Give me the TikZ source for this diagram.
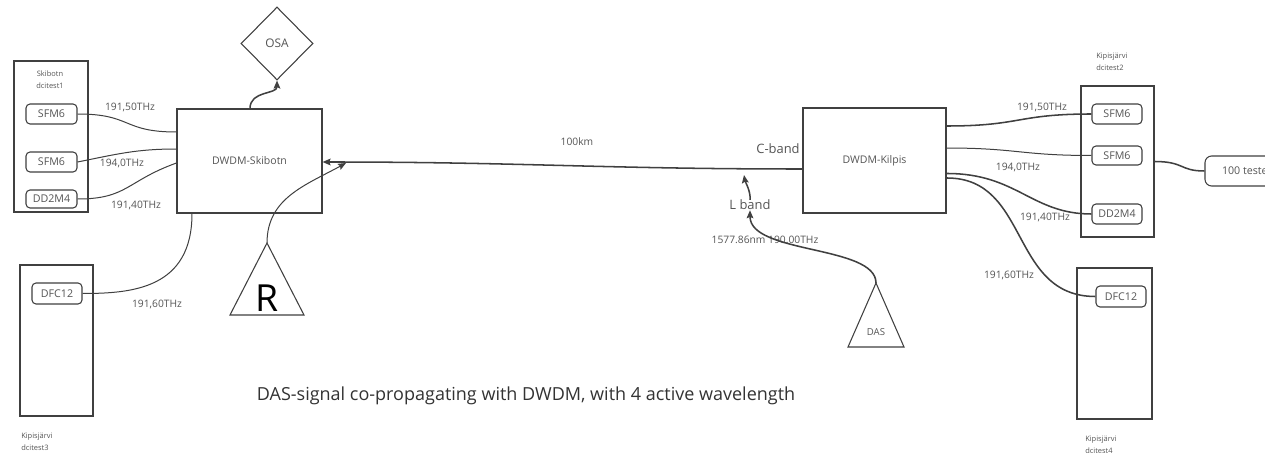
\documentclass[tikz,border=0pt]{standalone}
\usepackage{fontspec}
\setmainfont{Open Sans}
\usetikzlibrary{shapes.geometric,arrows.meta,calc}

\definecolor{ink}{HTML}{404040}
\definecolor{txt}{HTML}{555555}
\definecolor{titletxt}{HTML}{333333}

\begin{document}
\begin{tikzpicture}[x=0.75pt,y=-0.75pt,
  frame/.style 2 args={draw=ink, line width=0.8pt, minimum width=#1*0.75pt,
    minimum height=#2*0.75pt, inner sep=0pt},
  port/.style 2 args={frame={#1}{#2}, rounded corners=3pt, text=txt,
    font=\fontsize{8}{9.6}\selectfont},
  unit/.style 2 args={frame={#1}{#2}, text=txt, font=\fontsize{7.9}{9.5}\selectfont},
  freq/.style={text=txt, inner sep=0pt, font=\fontsize{7.7}{9}\selectfont},
  site/.style={text=txt, inner sep=0pt, align=left, font=\fontsize{5.6}{9}\selectfont},
  band/.style={text=txt, inner sep=0pt, font=\fontsize{9.7}{11}\selectfont},
  thin/.style={draw=ink, line width=0.75pt},
  thick/.style={draw=ink, line width=1.15pt},
  tip/.style={-{Stealth[length=6pt,width=5pt,inset=1pt]}},
]
\useasboundingbox[fill=white] (0,0) rectangle (1265,453);

% ---------- Skibotn side ----------
\node[frame={74}{151}] (site1) at (51,136.5) {};
\node[site, align=center] (site1lbl) at (50,80) {Skibotn\\dcitest1};
\node[port={51}{20}] (sfmA) at (51.5,114) {SFM6};
\node[port={51}{20}] (sfmB) at (51.5,162) {SFM6};
\node[port={51}{18}] (ddA) at (51.5,199) {DD2M4};

\node[frame={73}{151}] (site3) at (56.5,340.5) {};
\node[port={50}{21}] (dfcA) at (57,293.5) {DFC12};
\node[site, anchor=west] (site3lbl) at (21,442) {Kipisjärvi\\dcitest3};

\node[unit={145}{104}] (dwdmS) at (249.5,161) {DWDM-Skibotn};
\node[diamond, draw=ink, line width=0.8pt, inner sep=0pt, minimum width=72*0.75pt,
  minimum height=73*0.75pt, text=txt, font=\fontsize{8.9}{10}\selectfont] (osa) at (277,43.5) {OSA};

% receiver triangle
\draw[draw=ink, line width=0.8pt] (267,243) -- (304,315) -- (230,315) -- cycle;
\coordinate (rtop) at (267,243);
\node[text=black, inner sep=0pt, font=\fontsize{28}{30}\selectfont] (rlbl) at (267,298.5) {R};

\node[freq] (fA) at (130,107) {191,50THz};
\node[freq] (fB) at (122,163) {194,0THz};
\node[freq] (fC) at (136,205) {191,40THz};
\node[freq] (fD) at (157,304) {191,60THz};

% ---------- span ----------
\node[unit={143}{105}] (dwdmK) at (874.5,160.5) {DWDM-Kilpis};
\node[freq] (span) at (577,142) {100km};
\node[band] (cband) at (778,149) {C-band};
\node[band] (lband) at (750,205) {L band};
\node[freq] (das lambda) at (765,240) {1577.86nm 190.00THz};
\coordinate (lhit) at (744,175);
\coordinate (rin) at (346,163);

% DAS triangle
\draw[draw=ink, line width=0.8pt] (876,283) -- (904,347) -- (848,347) -- cycle;
\coordinate (dastop) at (876,283);
\node[text=txt, inner sep=0pt, font=\fontsize{7.2}{8}\selectfont] (daslbl) at (876,332) {DAS};

% ---------- Kilpisjärvi side ----------
\node[frame={73}{151}] (site2) at (1117.5,161.5) {};
\node[site, anchor=west] (site2lbl) at (1096,62) {Kipisjärvi\\dcitest2};
\node[port={50}{20}] (sfmC) at (1117,114) {SFM6};
\node[port={50}{19}] (sfmD) at (1117,155.5) {SFM6};
\node[port={50}{20}] (ddB) at (1117,214) {DD2M4};
\node[port={84}{30}, rounded corners=5pt] (tester) at (1247,171) {100 tester};

\node[frame={75}{151}] (site4) at (1114.5,343.5) {};
\node[port={50}{21}] (dfcB) at (1121,296.5) {DFC12};
\node[site, anchor=west] (site4lbl) at (1085,444.5) {Kipisjärvi\\dcitest4};

\node[freq] (fE) at (1042,107) {191,50THz};
\node[freq] (fF) at (1018,167) {194,0THz};
\node[freq] (fG) at (1045,217) {191,40THz};
\node[freq] (fH) at (1009,275) {191,60THz};

% title
\node[text=titletxt, inner sep=0pt, font=\fontsize{13.5}{15}\selectfont] (title) at (526,396)
  {DAS-signal co-propagating with DWDM, with 4 active wavelength};

% ---------- connectors ----------
\draw[thin] (sfmA.east) .. controls +(55,0) and +(-55,0) .. ($(dwdmS.west)+(0,-29)$);
\draw[thin] (sfmB.east) .. controls +(40,-8) and +(-40,0) .. ($(dwdmS.west)+(0,-12)$);
\draw[thin] (ddA.east) .. controls +(50,0) and +(-50,18) .. ($(dwdmS.west)+(0,2)$);
\draw[thin] ($(dwdmS.south)+(-57.5,0)$) .. controls +(0,75) and +(50,0) .. (dfcA.east);
\draw[thick, tip] ($(dwdmS.north)+(0.5,0)$) .. controls +(0,-18) and +(0,14) .. (osa.south);
\draw[thin, tip] (rtop) .. controls +(0,-45) and +(-40,22) .. (rin);

\draw[thick, tip] ($(dwdmK.west)+(0,8.5)$) .. controls +(-200,0) and +(200,0) .. ($(dwdmS.east)+(0,1)$);
\draw[thick, tip] (lband.north) .. controls +(1,-8) and +(1,6) .. (lhit);
\draw[thick, tip] (dastop) .. controls +(0,-38) and +(0,44) .. (lband.south);

\draw[thick] ($(dwdmK.east)+(0,-34.5)$) .. controls +(75,0) and +(-75,0) .. (sfmC.west);
\draw[thin] ($(dwdmK.east)+(0,-12.5)$) .. controls +(70,0) and +(-70,0) .. (sfmD.west);
\draw[thick] ($(dwdmK.east)+(0.5,13)$) .. controls +(70,0) and +(-60,0) .. (ddB.west);
\draw[thick] ($(dwdmK.east)+(0.5,17.5)$) .. controls +(83,0) and +(-86,0) .. (dfcB.west);
\draw[thick] (site2.east) .. controls +(30,0) and +(-25,0) .. (tester.west);
\end{tikzpicture}
\end{document}
